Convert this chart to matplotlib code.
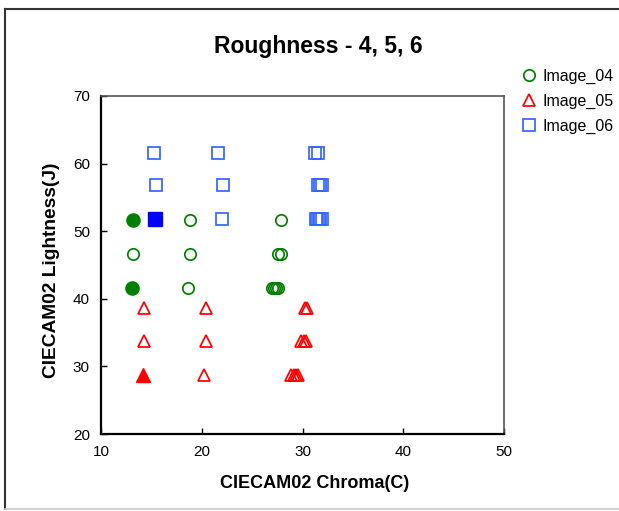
import matplotlib.pyplot as plt
from matplotlib.lines import Line2D

plt.rcParams['font.family'] = ['Liberation Sans', 'DejaVu Sans']

# Image_04 (open circles)
c04_x = [18.8, 27.9, 13.2, 18.8, 27.6, 27.9, 18.6, 27.0, 27.2, 27.4, 27.6]
c04_y = [51.6, 51.6, 46.7, 46.7, 46.7, 46.7, 41.6, 41.6, 41.6, 41.6, 41.6]
# Image_05 (open triangles)
c05_x = [14.3, 20.4, 30.2, 30.4, 14.3, 20.4, 29.9, 30.1, 30.3, 20.2, 28.9, 29.2, 29.4, 29.6]
c05_y = [38.7, 38.7, 38.7, 38.7, 33.8, 33.8, 33.8, 33.8, 33.8, 28.7, 28.7, 28.7, 28.7, 28.7]
# Image_06 (open squares)
c06_x = [15.3, 21.6, 31.2, 31.5, 15.5, 22.1, 31.5, 31.7, 31.9, 22.0, 31.3, 31.45, 31.6, 31.75, 31.9]
c06_y = [61.5, 61.5, 61.5, 61.5, 56.8, 56.8, 56.8, 56.8, 56.8, 51.8, 51.8, 51.8, 51.8, 51.8, 51.8]

# reference samples (filled)
ref04_x = [13.2, 13.1]
ref04_y = [51.6, 41.6]
ref05_x = [14.2]
ref05_y = [28.7]
ref06_x = [15.4]
ref06_y = [51.8]

green = '#008000'
red = '#FF0000'
blue = '#3366FF'

fig = plt.figure(figsize=(6.19, 5.11), dpi=100)
ax = fig.add_axes([101 / 619, 77 / 511, 403 / 619, 338 / 511])

ax.plot(c04_x, c04_y, 'o', ms=8.2, mfc='none', mec=green, mew=1.25, label='Image_04')
ax.plot(c05_x, c05_y, '^', ms=8.8, mfc='none', mec=red, mew=1.25, label='Image_05')
ax.plot(c06_x, c06_y, 's', ms=8.2, mfc='none', mec=blue, mew=1.25, label='Image_06')

ax.plot(ref04_x, ref04_y, 'o', ms=9.5, color=green, mec=green)
ax.plot(ref05_x, ref05_y, '^', ms=10.5, color=red, mec=red)
ax.plot(ref06_x, ref06_y, 's', ms=9.5, color='#0000FF', mec='#0000FF')

ax.set_xlim(10, 50)
ax.set_ylim(20, 70)
ax.set_xticks([10, 20, 30, 40, 50])
ax.set_yticks([20, 30, 40, 50, 60, 70])
ax.tick_params(direction='in', length=4, width=1, labelsize=11, pad=8)
for s in ['left', 'bottom']:
    ax.spines[s].set_linewidth(1.6)
    ax.spines[s].set_color('black')
for s in ['top', 'right']:
    ax.spines[s].set_linewidth(1.2)
    ax.spines[s].set_color('#555555')

fig.text(318 / 619, 1 - 46 / 511, 'Roughness - 4, 5, 6', ha='center', va='center',
         fontsize=16.5, fontweight='bold')
fig.text(315 / 619, 1 - 483 / 511, 'CIECAM02 Chroma(C)', ha='center', va='center',
         fontsize=13, fontweight='bold')
fig.text(52 / 619, 1 - 270 / 511, 'CIECAM02 Lightness(J)', ha='center', va='center',
         rotation=90, fontsize=13.8, fontweight='bold')

fig.legend(loc='upper left', bbox_to_anchor=(521 / 619, 1 - 69 / 511), frameon=False,
           fontsize=11.5, handlelength=1.0, handletextpad=0.35, labelspacing=0.62,
           borderaxespad=0, borderpad=0)

# chart area border
fig.add_artist(Line2D([5 / 619, 1], [1 - 9 / 511, 1 - 9 / 511], color='#333333', lw=1.5))
fig.add_artist(Line2D([5 / 619, 5 / 619], [2 / 511, 1 - 9 / 511], color='#333333', lw=1.5))
fig.add_artist(Line2D([5 / 619, 1], [2 / 511, 2 / 511], color='#cccccc', lw=1.2))

fig.savefig('out.png', dpi=100)
